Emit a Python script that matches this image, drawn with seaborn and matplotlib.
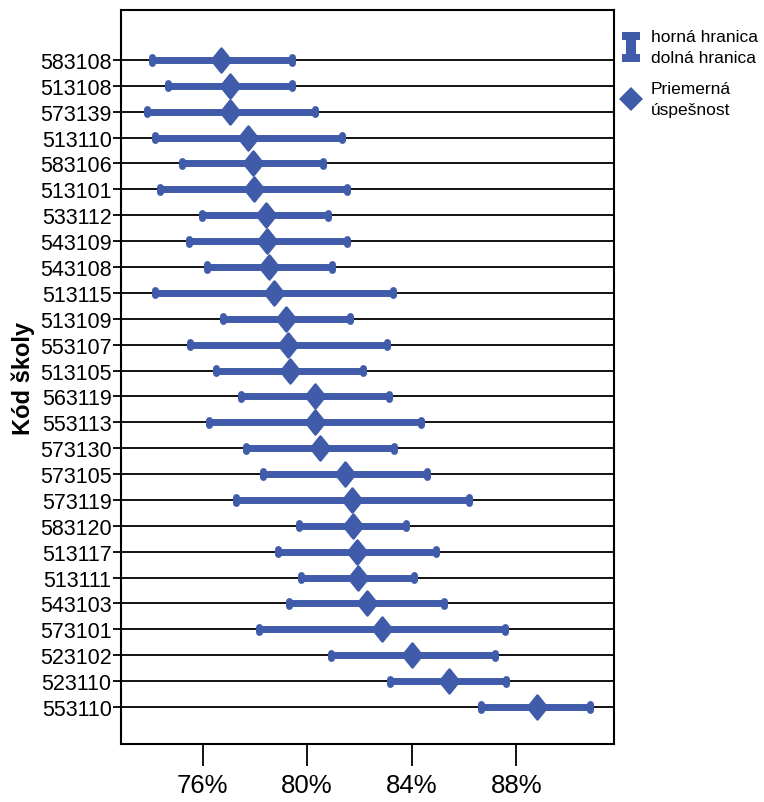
import numpy as np
import pandas as pd
import seaborn as sns
import matplotlib.pyplot as plt
from matplotlib.path import Path
from matplotlib.markers import MarkerStyle
from matplotlib.lines import Line2D
from matplotlib.ticker import StrMethodFormatter

# School codes, top to bottom
schools = ["583108", "513108", "573139", "513110", "583106", "513101", "533112",
           "543109", "543108", "513115", "513109", "553107", "513105", "563119",
           "553113", "573130", "573105", "573119", "583120", "513117", "513111",
           "543103", "573101", "523102", "523110", "553110"]

# Success rate in percent: lower bound, mean, upper bound
lower = [74.06, 74.69, 73.87, 74.18, 75.20, 74.37, 75.98, 75.48, 76.18, 74.18,
         76.77, 75.53, 76.50, 77.47, 76.25, 77.66, 78.30, 77.28, 79.70, 78.88,
         79.77, 79.32, 78.17, 80.92, 83.18, 86.65]
mean = [76.71, 77.05, 77.05, 77.73, 77.92, 77.97, 78.42, 78.48, 78.54, 78.74,
        79.19, 79.28, 79.35, 80.30, 80.30, 80.50, 81.45, 81.73, 81.75, 81.90,
        81.96, 82.28, 82.88, 84.03, 85.43, 88.78]
upper = [79.41, 79.41, 80.30, 81.33, 80.62, 81.52, 80.81, 81.52, 80.94, 83.30,
         81.64, 83.05, 82.15, 83.15, 84.35, 83.33, 84.60, 86.21, 83.77, 84.92,
         84.09, 85.25, 87.57, 87.19, 87.61, 90.82]

xticks = [76, 80, 84, 88]
legend_labels = ["horná hranica\ndolná hranica", "Priemerná\núspešnost"]

blue = "#3F5BAA"

# long table: median of (lower, mean, upper) is the mean, 0-100 percentile range is the bound
df = pd.DataFrame({
    "school": np.repeat(schools, 3),
    "value": np.column_stack([lower, mean, upper]).ravel(),
})

sns.set_theme(style="ticks")
plt.rcParams["font.family"] = ["Liberation Sans", "DejaVu Sans"]
plt.rcParams["axes.edgecolor"] = "black"
plt.rcParams["xtick.color"] = "black"
plt.rcParams["ytick.color"] = "black"
plt.rcParams["text.color"] = "black"
plt.rcParams["axes.labelcolor"] = "black"

diamond = MarkerStyle(Path([(0, 1), (0.8, 0), (0, -1), (-0.8, 0), (0, 1)],
                           [Path.MOVETO, Path.LINETO, Path.LINETO, Path.LINETO, Path.CLOSEPOLY]))
ibeam = MarkerStyle(Path([(-0.62, 1), (0.62, 1), (0.62, 0.5), (0.34, 0.5), (0.34, -0.5),
                          (0.62, -0.5), (0.62, -1), (-0.62, -1), (-0.62, -0.5), (-0.34, -0.5),
                          (-0.34, 0.5), (-0.62, 0.5), (-0.62, 1)]))

fig = plt.figure(figsize=(7.64, 8.03), dpi=100)
ax = fig.add_axes([0.1584, 0.0722, 0.6453, 0.9141])

sns.pointplot(data=df, x="value", y="school", order=schools, orient="h",
              estimator="median", errorbar=("pi", 100), color=blue,
              markers=diamond, markersize=17, linestyle="none", capsize=0.2,
              err_kws={"linewidth": 5, "solid_capstyle": "round"}, ax=ax)

# diamonds above the bars
for ln in ax.lines:
    if ln.get_linestyle() in ("None", "none", ""):
        ln.set_zorder(5)

ax.grid(axis="y", color="black", linewidth=1.3)
ax.set_axisbelow(True)
ax.set_ylim(len(schools) - 1 + 1.43, -1.93)
ax.set_xlim(72.88, 91.74)
ax.set_xticks(xticks)
ax.xaxis.set_major_formatter(StrMethodFormatter("{x:.0f}%"))
ax.tick_params(axis="x", length=15.8, width=1.3, pad=5, labelsize=18.5)
ax.tick_params(axis="y", length=5.8, width=1.3, pad=1, labelsize=15.5)
for sp in ax.spines.values():
    sp.set_linewidth(1.5)
    sp.set_color("black")

ax.set_xlabel("")
ax.set_ylabel("Kód školy", fontsize=17, fontweight="bold")
ax.yaxis.set_label_coords(-0.174, 0.5)

handles = [Line2D([], [], linestyle="none", marker=ibeam, markersize=21,
                  color=blue, markeredgewidth=0),
           Line2D([], [], linestyle="none", marker="D", markersize=12,
                  color=blue, markeredgewidth=0)]
leg = fig.legend(handles, legend_labels, loc="upper left",
                 bbox_to_anchor=(621 / 764, 1 - 30 / 803), frameon=False,
                 fontsize=12.5, handlelength=1.2, handletextpad=0.5,
                 labelspacing=0.9, borderpad=0, borderaxespad=0)
for t in leg.get_texts():
    t.set_linespacing(1.5)

fig.savefig("out.png", dpi=100)
